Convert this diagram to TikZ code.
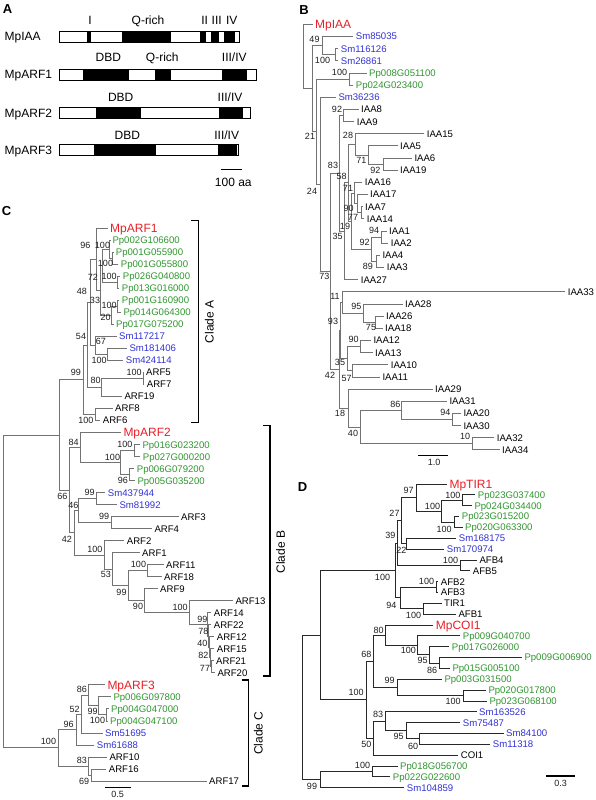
\documentclass[tikz,border=0pt]{standalone}
\usepackage{fontspec}
\setmainfont{Liberation Sans}
\definecolor{mpred}{RGB}{232,32,40}
\definecolor{ppgreen}{RGB}{48,150,48}
\definecolor{smblue}{RGB}{50,50,215}
\definecolor{treeg}{RGB}{115,115,115}
\definecolor{treed}{RGB}{40,40,40}
\definecolor{bstxt}{RGB}{30,30,30}
\tikzset{
  lk/.style={font=\fontsize{9.6}{10}\selectfont, inner xsep=2.5pt, inner ysep=0pt, text height=6.9pt, text depth=0pt, anchor=west, text=black},
  lg/.style={lk, text=ppgreen},
  lb/.style={lk, text=smblue},
  mp/.style={font=\fontsize{12}{12}\selectfont, inner xsep=2.5pt, inner ysep=0pt, text height=8.6pt, text depth=0pt, anchor=west, text=mpred},
  bs/.style={font=\fontsize{9}{10}\selectfont, inner sep=0pt, text height=6.5pt, text depth=0pt, text=bstxt},
  ta/.style={font=\fontsize{12}{12}\selectfont, inner sep=0pt, text height=8.6pt, text depth=0pt},
  plet/.style={font=\fontsize{13}{13}\selectfont\bfseries, inner sep=0pt, text height=9.3pt, text depth=0pt},
  clade/.style={font=\fontsize{12}{12}\selectfont, inner sep=0pt, rotate=90},
  tb/.style={draw=treeg, line width=0.85pt},
  td/.style={draw=treed, line width=0.85pt},
  brk/.style={draw=black, line width=1.1pt},
  sbar/.style={draw=black, line width=1.1pt},
  bar/.style={draw=black, line width=0.8pt}
}
\newcommand\Lf[5]{\node[#1] (#2) at ({#3-2.5},#4) {#5};}
\newcommand\EL[3][tb]{\draw[#1] (#2) |- (#3.west);}
\newcommand\EI[3][tb]{\draw[#1] (#2) |- (#3);}
\newcommand\Cd[3]{\coordinate (#1) at (#2,#3);}
\newcommand\Bs[4]{\node[bs] (#1) at (#2,#3) {#4};}
\begin{document}
\begin{tikzpicture}[x=1pt,y=-1pt]
\useasboundingbox (0,0) rectangle (596,800);
\fill[white] (0,0) rectangle (596,800);

% ================= Panel A =================
\node[plet] (pA) at (7.5,8.5) {A};
\node[ta,anchor=west] (rIAA) at (4.5,36.5) {MpIAA};
\node[ta,anchor=west] (rARF1) at (4.5,74.5) {MpARF1};
\node[ta,anchor=west] (rARF2) at (4.5,112.8) {MpARF2};
\node[ta,anchor=west] (rARF3) at (4.5,150.3) {MpARF3};
% MpIAA
\fill[white] (59.3,31) rectangle (239.3,42);
\fill[black] (87,31) rectangle (90.7,42);
\fill[black] (122.3,31) rectangle (170.7,42);
\fill[black] (200.3,31) rectangle (205.7,42);
\fill[black] (211,31) rectangle (219,42);
\fill[black] (224,31) rectangle (234.7,42);
\draw[bar] (59.3,31) rectangle (239.3,42);
\node[ta] (aI) at (90,20) {I};
\node[ta] (aQ1) at (148,20) {Q-rich};
\node[ta] (aII) at (204.7,20) {II};
\node[ta] (aIII) at (216.7,20) {III};
\node[ta] (aIV) at (231.7,20) {IV};
% MpARF1
\fill[white] (59.3,69) rectangle (256.7,80);
\fill[black] (83,69) rectangle (129,80);
\fill[black] (155,69) rectangle (170.7,80);
\fill[black] (222,69) rectangle (247,80);
\draw[bar] (59.3,69) rectangle (256.7,80);
\node[ta] (aD1) at (108.3,57.3) {DBD};
\node[ta] (aQ2) at (162.3,57.3) {Q-rich};
\node[ta] (aM1) at (234.3,57.3) {III/IV};
% MpARF2
\fill[white] (59.3,107) rectangle (250.3,118);
\fill[black] (95.7,107) rectangle (141,118);
\fill[black] (218.7,107) rectangle (243,118);
\draw[bar] (59.3,107) rectangle (250.3,118);
\node[ta] (aD2) at (120.7,96.7) {DBD};
\node[ta] (aM2) at (230,96.7) {III/IV};
% MpARF3
\fill[white] (59.3,144.5) rectangle (238,155.5);
\fill[black] (94.3,144.5) rectangle (156.3,155.5);
\fill[black] (218,144.5) rectangle (237.3,155.5);
\draw[bar] (59.3,144.5) rectangle (238,155.5);
\node[ta] (aD3) at (127.3,135) {DBD};
\node[ta] (aM3) at (226.7,135) {III/IV};
% scale
\coordinate (sa1) at (220.7,169.3); \coordinate (sa2) at (242.3,169.3);
\draw[sbar] (sa1) -- (sa2);
\node[ta] (sA) at (233.3,182.3) {100 aa};

% ================= Panel B =================
\node[plet] (pB) at (304,9.5) {B};
\Lf{mp}{bMpIAA}{315}{24.3}{MpIAA}
\Lf{lb}{bSm85035}{355.7}{36.46}{Sm85035}
\Lf{lb}{bSm116126}{340.7}{48.62}{Sm116126}
\Lf{lb}{bSm26861}{340.7}{60.78}{Sm26861}
\Lf{lg}{bPp008}{369}{72.94}{Pp008G051100}
\Lf{lg}{bPp024}{355.7}{85.1}{Pp024G023400}
\Lf{lb}{bSm36236}{338.3}{97.26}{Sm36236}
\Lf{lk}{bIAA8}{361}{109.42}{IAA8}
\Lf{lk}{bIAA9}{356.7}{121.58}{IAA9}
\Lf{lk}{bIAA15}{426.7}{133.74}{IAA15}
\Lf{lk}{bIAA5}{400}{145.9}{IAA5}
\Lf{lk}{bIAA6}{414.3}{158.06}{IAA6}
\Lf{lk}{bIAA19}{400}{170.22}{IAA19}
\Lf{lk}{bIAA16}{364.7}{182.38}{IAA16}
\Lf{lk}{bIAA17}{370}{194.54}{IAA17}
\Lf{lk}{bIAA7}{365}{206.7}{IAA7}
\Lf{lk}{bIAA14}{366.7}{218.86}{IAA14}
\Lf{lk}{bIAA1}{389}{231.02}{IAA1}
\Lf{lk}{bIAA2}{390.7}{243.18}{IAA2}
\Lf{lk}{bIAA4}{382.3}{255.34}{IAA4}
\Lf{lk}{bIAA3}{386.7}{267.5}{IAA3}
\Lf{lk}{bIAA27}{360.7}{279.66}{IAA27}
\Lf{lk}{bIAA33}{567.7}{291.82}{IAA33}
\Lf{lk}{bIAA28}{405}{303.98}{IAA28}
\Lf{lk}{bIAA26}{386}{316.14}{IAA26}
\Lf{lk}{bIAA18}{385}{328.3}{IAA18}
\Lf{lk}{bIAA12}{373.3}{340.46}{IAA12}
\Lf{lk}{bIAA13}{375}{352.62}{IAA13}
\Lf{lk}{bIAA10}{390.7}{364.78}{IAA10}
\Lf{lk}{bIAA11}{382.3}{376.94}{IAA11}
\Lf{lk}{bIAA29}{435}{389.1}{IAA29}
\Lf{lk}{bIAA31}{449.3}{401.26}{IAA31}
\Lf{lk}{bIAA20}{463.3}{413.42}{IAA20}
\Lf{lk}{bIAA30}{463.3}{425.58}{IAA30}
\Lf{lk}{bIAA32}{496.7}{437.74}{IAA32}
\Lf{lk}{bIAA34}{502}{449.9}{IAA34}
\Cd{bR}{303}{56.46}
\Cd{b21}{312.5}{88.62}
\Cd{b49}{322.3}{45.58}
\Cd{b100a}{335}{54.7}
\Cd{b24}{316.7}{131.66}
\Cd{b100b}{349.3}{79.02}
\Cd{bx}{320}{184.3}
\Cd{b73}{330}{271.35}
\Cd{b83}{339.3}{173.36}
\Cd{b92}{343.3}{115.5}
\Cd{b35}{344.5}{231.21}
\Cd{by}{348}{182.76}
\Cd{b28}{355}{144.38}
\Cd{b71a}{368.3}{155.02}
\Cd{b92a}{383.3}{164.14}
\Cd{b19}{351}{221.14}
\Cd{b71b}{354}{193.02}
\Cd{b90}{357}{203.66}
\Cd{b77}{361}{212.78}
\Cd{b92b}{371.7}{249.26}
\Cd{b94}{381.7}{237.1}
\Cd{b89}{376}{261.42}
\Cd{b42}{339}{369.34}
\Cd{b93}{340.7}{330.58}
\Cd{b11}{342}{302.46}
\Cd{b95}{363.3}{313.1}
\Cd{b75}{375.5}{322.22}
\Cd{b35b}{347}{358.7}
\Cd{b90b}{360}{346.54}
\Cd{b57}{352.7}{370.86}
\Cd{b18}{348.3}{408.1}
\Cd{b40}{360}{427.1}
\Cd{b86}{401.7}{410.38}
\Cd{b94b}{452}{419.5}
\Cd{b10}{472}{443.82}
\EL{bR}{bMpIAA} \EI{bR}{b21}
\EI{b21}{b49} \EI{b21}{b24}
\EL{b49}{bSm85035} \EI{b49}{b100a}
\EL{b100a}{bSm116126} \EL{b100a}{bSm26861}
\EI{b24}{b100b} \EI{b24}{bx}
\EL{b100b}{bPp008} \EL{b100b}{bPp024}
\EL{bx}{bSm36236} \EI{bx}{b73}
\EI{b73}{b83} \EI{b73}{b42}
\EI{b83}{b92} \EI{b83}{b35}
\EL{b92}{bIAA8} \EL{b92}{bIAA9}
\EI{b35}{by} \EL{b35}{bIAA27}
\EI{by}{b28} \EI{by}{b19}
\EL{b28}{bIAA15} \EI{b28}{b71a}
\EL{b71a}{bIAA5} \EI{b71a}{b92a}
\EL{b92a}{bIAA6} \EL{b92a}{bIAA19}
\EI{b19}{b71b} \EI{b19}{b92b}
\EL{b71b}{bIAA16} \EI{b71b}{b90}
\EL{b90}{bIAA17} \EI{b90}{b77}
\EL{b77}{bIAA7} \EL{b77}{bIAA14}
\EI{b92b}{b94} \EI{b92b}{b89}
\EL{b94}{bIAA1} \EL{b94}{bIAA2}
\EL{b89}{bIAA4} \EL{b89}{bIAA3}
\EI{b42}{b93} \EI{b42}{b18}
\EI{b93}{b11} \EI{b93}{b35b}
\EL{b11}{bIAA33} \EI{b11}{b95}
\EL{b95}{bIAA28} \EI{b95}{b75}
\EL{b75}{bIAA26} \EL{b75}{bIAA18}
\EI{b35b}{b90b} \EI{b35b}{b57}
\EL{b90b}{bIAA12} \EL{b90b}{bIAA13}
\EL{b57}{bIAA10} \EL{b57}{bIAA11}
\EL{b18}{bIAA29} \EI{b18}{b40}
\EI{b40}{b86} \EI{b40}{b10}
\EL{b86}{bIAA31} \EI{b86}{b94b}
\EL{b94b}{bIAA20} \EL{b94b}{bIAA30}
\EL{b10}{bIAA32} \EL{b10}{bIAA34}
\Bs{bl1}{314.5}{39}{49}
\Bs{bl2}{322.5}{60}{100}
\Bs{bl3}{339.5}{72.3}{100}
\Bs{bl4}{337}{109.5}{92}
\Bs{bl5}{310}{136.7}{21}
\Bs{bl6}{348}{135}{28}
\Bs{bl7}{361.3}{160}{71}
\Bs{bl8}{375.3}{170}{92}
\Bs{bl9}{333}{165.7}{83}
\Bs{bl10}{341.7}{176.7}{58}
\Bs{bl11}{348}{188.3}{71}
\Bs{bl12}{312}{191}{24}
\Bs{bl13}{348.7}{208}{90}
\Bs{bl14}{353}{217}{77}
\Bs{bl15}{345}{226}{19}
\Bs{bl16}{374}{230}{94}
\Bs{bl17}{337.7}{236.7}{35}
\Bs{bl18}{364.7}{242.3}{92}
\Bs{bl19}{367.8}{266}{89}
\Bs{bl20}{324.3}{276.7}{73}
\Bs{bl21}{335}{296}{11}
\Bs{bl22}{356.3}{306}{95}
\Bs{bl23}{333}{321.7}{93}
\Bs{bl24}{371}{327}{75}
\Bs{bl25}{353.7}{339.3}{90}
\Bs{bl26}{340}{362.7}{35}
\Bs{bl27}{330}{375}{42}
\Bs{bl28}{346.7}{378.3}{57}
\Bs{bl29}{395.3}{404}{86}
\Bs{bl30}{340}{413}{18}
\Bs{bl31}{445.3}{412.7}{94}
\Bs{bl32}{353}{433}{40}
\Bs{bl33}{465}{436.7}{10}
\coordinate (sb1) at (418.3,455.3); \coordinate (sb2) at (448.3,455.3);
\draw[sbar] (sb1) -- (sb2);
\node[bs] (sB) at (434,462.5) {1.0};

% ================= Panel C =================
\node[plet] (pC) at (6.5,211) {C};
\Lf{mp}{cMpARF1}{110}{228.3}{MpARF1}
\Lf{lg}{cPp002}{112.3}{240.32}{Pp002G106600}
\Lf{lg}{cPp0559}{115.7}{252.33}{Pp001G055900}
\Lf{lg}{cPp0558}{120.7}{264.35}{Pp001G055800}
\Lf{lg}{cPp026}{122.7}{276.36}{Pp026G040800}
\Lf{lg}{cPp013}{121.7}{288.38}{Pp013G016000}
\Lf{lg}{cPp1609}{121.7}{300.39}{Pp001G160900}
\Lf{lg}{cPp014}{123.3}{312.41}{Pp014G064300}
\Lf{lg}{cPp017}{116}{324.42}{Pp017G075200}
\Lf{lb}{cSm117217}{119}{336.44}{Sm117217}
\Lf{lb}{cSm181406}{129.3}{348.45}{Sm181406}
\Lf{lb}{cSm424114}{125.7}{360.47}{Sm424114}
\Lf{lk}{cARF5}{146}{372.48}{ARF5}
\Lf{lk}{cARF7}{146.7}{384.5}{ARF7}
\Lf{lk}{cARF19}{124.3}{396.51}{ARF19}
\Lf{lk}{cARF8}{115}{408.53}{ARF8}
\Lf{lk}{cARF6}{102.7}{420.54}{ARF6}
\Lf{mp}{cMpARF2}{123.3}{432.56}{MpARF2}
\Lf{lg}{cPp016}{142.3}{444.57}{Pp016G023200}
\Lf{lg}{cPp027}{142.7}{456.59}{Pp027G000200}
\Lf{lg}{cPp006b}{136.7}{468.6}{Pp006G079200}
\Lf{lg}{cPp005}{137.3}{480.62}{Pp005G035200}
\Lf{lb}{cSm437944}{107.7}{492.63}{Sm437944}
\Lf{lb}{cSm81992}{119.3}{504.65}{Sm81992}
\Lf{lk}{cARF3}{181}{516.66}{ARF3}
\Lf{lk}{cARF4}{154.3}{528.68}{ARF4}
\Lf{lk}{cARF2}{126.7}{540.69}{ARF2}
\Lf{lk}{cARF1}{142}{552.71}{ARF1}
\Lf{lk}{cARF11}{166}{564.72}{ARF11}
\Lf{lk}{cARF18}{164}{576.74}{ARF18}
\Lf{lk}{cARF9}{160}{588.75}{ARF9}
\Lf{lk}{cARF13}{235.3}{600.77}{ARF13}
\Lf{lk}{cARF14}{213.7}{612.78}{ARF14}
\Lf{lk}{cARF22}{213.7}{624.8}{ARF22}
\Lf{lk}{cARF12}{216.7}{636.81}{ARF12}
\Lf{lk}{cARF15}{216.7}{648.83}{ARF15}
\Lf{lk}{cARF21}{216}{660.84}{ARF21}
\Lf{lk}{cARF20}{217.3}{672.86}{ARF20}
\Lf{mp}{cMpARF3}{107.3}{684.87}{MpARF3}
\Lf{lg}{cPp0978}{113.3}{696.89}{Pp006G097800}
\Lf{lg}{cPp0470}{111}{708.9}{Pp004G047000}
\Lf{lg}{cPp0471}{110}{720.92}{Pp004G047100}
\Lf{lb}{cSm51695}{105}{732.93}{Sm51695}
\Lf{lb}{cSm61688}{96.7}{744.95}{Sm61688}
\Lf{lk}{cARF10}{109.3}{756.96}{ARF10}
\Lf{lk}{cARF16}{108.7}{768.98}{ARF16}
\Lf{lk}{cARF17}{209}{781}{ARF17}
\Cd{cR}{3.3}{591.38}
\Cd{cAB}{59.3}{434.98}
\Cd{c99A}{83.3}{379.76}
\Cd{c54}{87.3}{344.98}
\Cd{c48}{90}{302.46}
\Cd{c96}{96.5}{259.47}
\Cd{c33}{100}{290.63}
\Cd{c72}{102}{265.85}
\Cd{c100b}{109.5}{249.33}
\Cd{c100Pa}{112.5}{258.34}
\Cd{c100c}{117}{282.37}
\Cd{c20}{111}{315.41}
\Cd{c100d}{117}{306.4}
\Cd{c67}{95}{345.45}
\Cd{c100Sm}{107.3}{354.46}
\Cd{c80}{101}{387.5}
\Cd{c10057}{143}{378.49}
\Cd{c10086}{95}{414.54}
\Cd{c66}{69.3}{490.2}
\Cd{c84}{80}{447.58}
\Cd{c100p}{120.7}{462.6}
\Cd{c100p1}{134}{450.58}
\Cd{c96p}{129.3}{474.61}
\Cd{c42}{74}{532.81}
\Cd{c46}{78.5}{510.66}
\Cd{c99s}{96}{498.64}
\Cd{c99a}{111}{522.67}
\Cd{c1002}{104.3}{554.95}
\Cd{c53}{112}{569.21}
\Cd{c99b}{128}{585.71}
\Cd{c1001118}{147.7}{570.73}
\Cd{c90}{144}{600.68}
\Cd{c10013}{189}{612.6}
\Cd{c99c}{207.7}{624.43}
\Cd{c78}{208.5}{636.07}
\Cd{c40}{209.3}{647.33}
\Cd{c82}{210}{657.84}
\Cd{c77}{211}{666.85}
\Cd{c100C}{58.3}{747.77}
\Cd{c96c}{76}{729.56}
\Cd{c52}{81.3}{714.16}
\Cd{c86c}{88.7}{695.39}
\Cd{c99pp}{98}{705.9}
\Cd{c100pp}{106.3}{714.91}
\Cd{c83c}{88.7}{765.98}
\Cd{c69}{91}{774.99}
\EI{cR}{cAB} \EI{cR}{c100C}
\EI{cAB}{c99A} \EI{cAB}{c66}
\EI{c99A}{c54} \EI{c99A}{c10086}
\EI{c54}{c48} \EI{c54}{c80}
\EI{c48}{c96} \EI{c48}{c67}
\EL{c96}{cMpARF1} \EI{c96}{c33}
\EI{c33}{c72} \EI{c33}{c20}
\EI{c72}{c100b} \EI{c72}{c100c}
\EL{c100b}{cPp002} \EI{c100b}{c100Pa}
\EL{c100Pa}{cPp0559} \EL{c100Pa}{cPp0558}
\EL{c100c}{cPp026} \EL{c100c}{cPp013}
\EI{c20}{c100d} \EL{c20}{cPp017}
\EL{c100d}{cPp1609} \EL{c100d}{cPp014}
\EL{c67}{cSm117217} \EI{c67}{c100Sm}
\EL{c100Sm}{cSm181406} \EL{c100Sm}{cSm424114}
\EI{c80}{c10057} \EL{c80}{cARF19}
\EL{c10057}{cARF5} \EL{c10057}{cARF7}
\EL{c10086}{cARF8} \EL{c10086}{cARF6}
\EI{c66}{c84} \EI{c66}{c42}
\EL{c84}{cMpARF2} \EI{c84}{c100p}
\EI{c100p}{c100p1} \EI{c100p}{c96p}
\EL{c100p1}{cPp016} \EL{c100p1}{cPp027}
\EL{c96p}{cPp006b} \EL{c96p}{cPp005}
\EI{c42}{c46} \EI{c42}{c1002}
\EI{c46}{c99s} \EI{c46}{c99a}
\EL{c99s}{cSm437944} \EL{c99s}{cSm81992}
\EL{c99a}{cARF3} \EL{c99a}{cARF4}
\EL{c1002}{cARF2} \EI{c1002}{c53}
\EL{c53}{cARF1} \EI{c53}{c99b}
\EI{c99b}{c1001118} \EI{c99b}{c90}
\EL{c1001118}{cARF11} \EL{c1001118}{cARF18}
\EL{c90}{cARF9} \EI{c90}{c10013}
\EL{c10013}{cARF13} \EI{c10013}{c99c}
\EL{c99c}{cARF14} \EI{c99c}{c78}
\EL{c78}{cARF22} \EI{c78}{c40}
\EL{c40}{cARF12} \EI{c40}{c82}
\EL{c82}{cARF15} \EI{c82}{c77}
\EL{c77}{cARF21} \EL{c77}{cARF20}
\EI{c100C}{c96c} \EI{c100C}{c83c}
\EI{c96c}{c52} \EL{c96c}{cSm61688}
\EI{c52}{c86c} \EL{c52}{cSm51695}
\EL{c86c}{cMpARF3} \EI{c86c}{c99pp}
\EL{c99pp}{cPp0978} \EI{c99pp}{c100pp}
\EL{c100pp}{cPp0470} \EL{c100pp}{cPp0471}
\EL{c83c}{cARF10} \EI{c83c}{c69}
\EL{c69}{cARF16} \EL{c69}{cARF17}
\Bs{cl1}{85.3}{245}{96}
\Bs{cl2}{102.5}{245}{100}
\Bs{cl3}{105.5}{263.7}{100}
\Bs{cl4}{93}{277.3}{72}
\Bs{cl5}{109.2}{276}{100}
\Bs{cl6}{82}{291}{48}
\Bs{cl7}{95}{300}{33}
\Bs{cl8}{109.2}{305}{100}
\Bs{cl9}{105.7}{317.3}{20}
\Bs{cl10}{81}{336}{54}
\Bs{cl11}{101}{341}{67}
\Bs{cl12}{99.2}{360.3}{100}
\Bs{cl13}{76}{372.3}{99}
\Bs{cl14}{134.2}{372.3}{100}
\Bs{cl15}{95.7}{380.7}{80}
\Bs{cl16}{85.8}{420.3}{100}
\Bs{cl17}{73.7}{442.3}{84}
\Bs{cl18}{124.8}{444.3}{100}
\Bs{cl19}{112.5}{457.7}{100}
\Bs{cl20}{122.8}{480.3}{96}
\Bs{cl21}{89.7}{492.7}{99}
\Bs{cl22}{62.5}{496.7}{66}
\Bs{cl23}{73.3}{505.7}{46}
\Bs{cl24}{104.2}{516.7}{99}
\Bs{cl25}{67}{539.3}{42}
\Bs{cl26}{94.8}{549}{100}
\Bs{cl27}{138.5}{564.7}{100}
\Bs{cl28}{105.8}{574.7}{53}
\Bs{cl29}{121.5}{592}{99}
\Bs{cl30}{138}{606.7}{90}
\Bs{cl31}{180.2}{607.7}{100}
\Bs{cl32}{202.3}{619.3}{99}
\Bs{cl33}{203.3}{631}{78}
\Bs{cl34}{202.3}{643.3}{40}
\Bs{cl35}{203.3}{655.7}{82}
\Bs{cl36}{205}{668.3}{77}
\Bs{cl37}{82}{689}{86}
\Bs{cl38}{74.7}{709}{52}
\Bs{cl39}{92.7}{711.3}{99}
\Bs{cl40}{97.5}{720}{100}
\Bs{cl41}{68.7}{724}{96}
\Bs{cl42}{48.5}{741}{100}
\Bs{cl43}{82}{760}{83}
\Bs{cl44}{84.2}{781}{69}
% clade brackets
\coordinate (kA1) at (191,220.7); \coordinate (kA2) at (198.3,220.7);
\coordinate (kA3) at (198.3,422.7); \coordinate (kA4) at (191,422.7);
\draw[brk] (kA1) -- (kA2) -- (kA3) -- (kA4);
\node[clade] (clA) at (209.3,321.7) {Clade A};
\coordinate (kB1) at (263.3,425.7); \coordinate (kB2) at (270,425.7);
\coordinate (kB3) at (270,676); \coordinate (kB4) at (263.3,676);
\draw[brk] (kB1) -- (kB2) -- (kB3) -- (kB4);
\node[clade] (clB) at (280.7,552) {Clade B};
\coordinate (kC1) at (241.7,680); \coordinate (kC2) at (248.3,680);
\coordinate (kC3) at (248.3,786); \coordinate (kC4) at (241.7,786);
\draw[brk] (kC1) -- (kC2) -- (kC3) -- (kC4);
\node[clade] (clC) at (258.3,733.3) {Clade C};
\coordinate (sc1) at (105,787.3); \coordinate (sc2) at (131,787.3);
\draw[sbar] (sc1) -- (sc2);
\node[bs] (sC) at (117.7,794.5) {0.5};

% ================= Panel D =================
\node[plet] (pD) at (302.5,487) {D};
\Lf{mp}{dMpTIR1}{449.3}{484}{MpTIR1}
\Lf{lg}{dPp0374}{477.7}{494.85}{Pp023G037400}
\Lf{lg}{dPp0344}{474.3}{505.69}{Pp024G034400}
\Lf{lg}{dPp0152}{461.7}{516.54}{Pp023G015200}
\Lf{lg}{dPp0633}{465}{527.38}{Pp020G063300}
\Lf{lb}{dSm168175}{458.7}{538.23}{Sm168175}
\Lf{lb}{dSm170974}{446.7}{549.08}{Sm170974}
\Lf{lk}{dAFB4}{479.3}{559.92}{AFB4}
\Lf{lk}{dAFB5}{472.7}{570.77}{AFB5}
\Lf{lk}{dAFB2}{440.7}{581.61}{AFB2}
\Lf{lk}{dAFB3}{440.7}{592.46}{AFB3}
\Lf{lk}{dTIR1}{444}{603.31}{TIR1}
\Lf{lk}{dAFB1}{458.3}{614.15}{AFB1}
\Lf{mp}{dMpCOI1}{435.7}{625}{MpCOI1}
\Lf{lg}{dPp0407}{462.7}{635.84}{Pp009G040700}
\Lf{lg}{dPp0260}{451.7}{646.69}{Pp017G026000}
\Lf{lg}{dPp0069}{524.3}{657.54}{Pp009G006900}
\Lf{lg}{dPp0051}{452.3}{668.38}{Pp015G005100}
\Lf{lg}{dPp0315}{444.3}{679.23}{Pp003G031500}
\Lf{lg}{dPp0178}{488.3}{690.07}{Pp020G017800}
\Lf{lg}{dPp0681}{489.3}{700.92}{Pp023G068100}
\Lf{lb}{dSm163526}{479}{711.77}{Sm163526}
\Lf{lb}{dSm75487}{462.7}{722.61}{Sm75487}
\Lf{lb}{dSm84100}{506}{733.46}{Sm84100}
\Lf{lb}{dSm11318}{492.7}{744.3}{Sm11318}
\Lf{lk}{dCOI1}{460.7}{755.15}{COI1}
\Lf{lg}{dPp0567}{400}{766}{Pp018G056700}
\Lf{lg}{dPp0226}{392.7}{776.84}{Pp022G022600}
\Lf{lb}{dSm104859}{406.7}{787.69}{Sm104859}
\Cd{dR}{302.7}{707.32}
\Cd{dBig}{320}{635.09}
\Cd{d100g}{395.5}{570.44}
\Cd{d39}{397}{542.98}
\Cd{d27}{401.7}{520.61}
\Cd{d97}{416}{497.56}
\Cd{d100c}{441.7}{511.12}
\Cd{d100a}{462.7}{500.27}
\Cd{d100b}{454}{521.96}
\Cd{d22}{406}{543.66}
\Cd{d100d}{460}{565.35}
\Cd{d94}{400}{597.89}
\Cd{d100e}{436.7}{587.04}
\Cd{d100f}{423.3}{608.73}
\Cd{d100j}{366}{699.74}
\Cd{d68}{373.3}{661.27}
\Cd{d80}{385.3}{635.17}
\Cd{d100h}{417.7}{645.33}
\Cd{d95a}{429.7}{654.83}
\Cd{d86}{439}{662.96}
\Cd{d99}{397}{687.36}
\Cd{d100i}{463}{695.5}
\Cd{d50}{373.3}{738.2}
\Cd{d83}{385.7}{721.26}
\Cd{d95b}{406}{730.75}
\Cd{d60}{419.7}{738.88}
\Cd{d99r}{320}{779.55}
\Cd{d100k}{372}{771.42}
\EI[td]{dR}{dBig} \EI[td]{dR}{d99r}
\EI[td]{dBig}{d100g} \EI[td]{dBig}{d100j}
\EI[td]{d100g}{d39} \EI[td]{d100g}{d94}
\EI[td]{d39}{d27} \EI[td]{d39}{d100d}
\EI[td]{d27}{d97} \EI[td]{d27}{d22}
\EL[td]{d97}{dMpTIR1} \EI[td]{d97}{d100c}
\EI[td]{d100c}{d100a} \EI[td]{d100c}{d100b}
\EL[td]{d100a}{dPp0374} \EL[td]{d100a}{dPp0344}
\EL[td]{d100b}{dPp0152} \EL[td]{d100b}{dPp0633}
\EL[td]{d22}{dSm168175} \EL[td]{d22}{dSm170974}
\EL[td]{d100d}{dAFB4} \EL[td]{d100d}{dAFB5}
\EI[td]{d94}{d100e} \EI[td]{d94}{d100f}
\EL[td]{d100e}{dAFB2} \EL[td]{d100e}{dAFB3}
\EL[td]{d100f}{dTIR1} \EL[td]{d100f}{dAFB1}
\EI[td]{d100j}{d68} \EI[td]{d100j}{d50}
\EI[td]{d68}{d80} \EI[td]{d68}{d99}
\EL[td]{d80}{dMpCOI1} \EI[td]{d80}{d100h}
\EL[td]{d100h}{dPp0407} \EI[td]{d100h}{d95a}
\EL[td]{d95a}{dPp0260} \EI[td]{d95a}{d86}
\EL[td]{d86}{dPp0069} \EL[td]{d86}{dPp0051}
\EL[td]{d99}{dPp0315} \EI[td]{d99}{d100i}
\EL[td]{d100i}{dPp0178} \EL[td]{d100i}{dPp0681}
\EI[td]{d50}{d83} \EL[td]{d50}{dCOI1}
\EL[td]{d83}{dSm163526} \EI[td]{d83}{d95b}
\EL[td]{d95b}{dSm75487} \EI[td]{d95b}{d60}
\EL[td]{d60}{dSm84100} \EL[td]{d60}{dSm11318}
\EI[td]{d99r}{d100k} \EL[td]{d99r}{dSm104859}
\EL[td]{d100k}{dPp0567} \EL[td]{d100k}{dPp0226}
\Bs{dl1}{408.5}{490}{97}
\Bs{dl2}{452.8}{495}{100}
\Bs{dl3}{432.5}{506}{100}
\Bs{dl4}{394.5}{513.7}{27}
\Bs{dl5}{444.2}{529}{100}
\Bs{dl6}{390.3}{535}{39}
\Bs{dl7}{401.3}{550}{22}
\Bs{dl8}{450.5}{560.7}{100}
\Bs{dl9}{382.5}{577}{100}
\Bs{dl10}{426.5}{581}{100}
\Bs{dl11}{391.3}{605.7}{94}
\Bs{dl12}{413.5}{615.3}{100}
\Bs{dl13}{378.7}{630}{80}
\Bs{dl14}{408.3}{650}{100}
\Bs{dl15}{366.3}{654.3}{68}
\Bs{dl16}{422.5}{660}{95}
\Bs{dl17}{432}{670}{86}
\Bs{dl18}{389.7}{680.7}{99}
\Bs{dl19}{356.2}{692.7}{100}
\Bs{dl20}{453.2}{701}{100}
\Bs{dl21}{378}{714.3}{83}
\Bs{dl22}{398.7}{736}{95}
\Bs{dl23}{366.3}{744.3}{50}
\Bs{dl24}{413}{746}{60}
\Bs{dl25}{362.5}{765}{100}
\Bs{dl26}{312}{786}{99}
\coordinate (sd1) at (546,776); \coordinate (sd2) at (575,776);
\draw[sbar] (sd1) -- (sd2);
\node[bs] (sD) at (560.7,783.5) {0.3};
\end{tikzpicture}
\end{document}
